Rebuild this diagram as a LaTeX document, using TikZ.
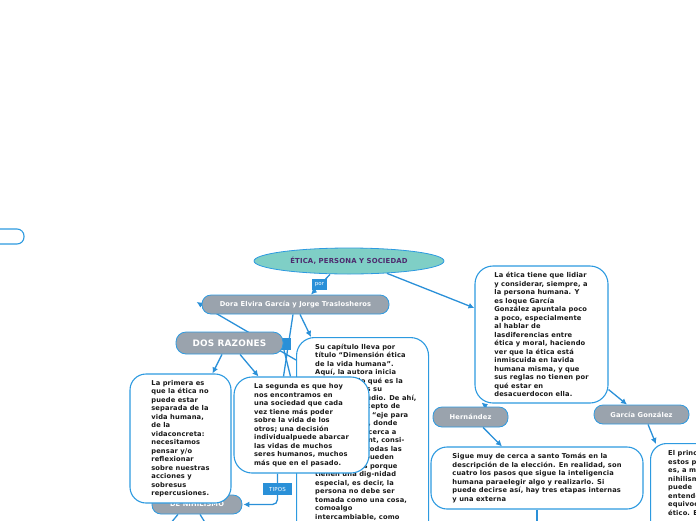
\documentclass[tikz,border=0pt]{standalone}
\usepackage{fontspec}
\setmainfont{DejaVu Sans}[LetterSpace=2]
\usetikzlibrary{shapes.geometric,arrows.meta}
\definecolor{bblue}{HTML}{2D9AE0}
\definecolor{cblue}{HTML}{2A90D8}
\definecolor{gbox}{HTML}{9AA3AD}
\definecolor{teal0}{HTML}{7FCFC6}
\definecolor{purp}{HTML}{4E2A6E}
\definecolor{ink}{HTML}{1A1A1A}
\newcommand\boxfont{\fontsize{6.7}{8.5}\selectfont\bfseries}
\pgfdeclarelayer{bg}
\pgfsetlayers{bg,main}
\begin{document}
\begin{tikzpicture}[x=1pt,y=-1pt,
  txtbox/.style={draw=bblue, line width=1.1pt, fill=white, rounded corners=16pt, align=left, font=\boxfont, text=ink, inner sep=0pt},
  plaintext/.style={align=left, font=\boxfont, text=ink, inner sep=0pt, anchor=north west},
  graybox/.style={draw=bblue, line width=0.8pt, fill=gbox, rounded corners=9pt, font=\boxfont, text=white, inner sep=0pt},
  conn/.style={draw=cblue, line width=1.3pt},
  arr/.style={conn, -{Latex[length=6pt,width=6pt]}},
  lab/.style={fill=cblue, text=white, font=\fontsize{5.5}{6}\selectfont, inner sep=0pt}]
\useasboundingbox (0,0) rectangle (696,520);
\clip (0,0) rectangle (696,520);

% ---------- nodes ----------
\node[ellipse, draw=bblue, line width=0.8pt, fill=teal0, minimum width=190pt, minimum height=26pt,
  inner sep=0pt, font=\fontsize{6.9}{8}\selectfont\bfseries, text=purp] (ell) at (349,261) {ÉTICA, PERSONA Y SOCIEDAD};

\node[graybox, minimum width=187pt, minimum height=19pt] (dora) at (295.5,304.5) {Dora Elvira García y Jorge Traslosheros};

\node[lab, minimum width=14pt, minimum height=12pt] (tab) at (284,344) {};
\node[graybox, minimum width=107pt, minimum height=22pt, rounded corners=10pt,
  font=\fontsize{8.9}{10}\selectfont\bfseries] (dos) at (229.5,343) {DOS RAZONES};

\node[txtbox, anchor=north west, minimum width=132pt, minimum height=300pt, rounded corners=18pt] (mid) at (296,337) {};
\node[plaintext] (midtext) at (315,343.5) {Su capítulo lleva por\\
título “Dimensión ética\\
de la vida humana”.\\
Aquí, la autora inicia\\
preguntando qué es la\\
ética y cuál es su\\
objeto de estudio. De ahí,\\
parte del concepto de\\
persona como “eje para\\
toda la ética”, donde\\
la autora se acerca a\\
la ética de Kant, consi-\\
derando que todas las\\
personas no pueden\\
ser utilizadas porque\\
tienen una dig-nidad\\
especial, es decir, la\\
persona no debe ser\\
tomada como una cosa,\\
comoalgo\\
intercambiable, como};

\node[txtbox, minimum width=135pt, minimum height=96pt, rounded corners=18pt] (seg) at (301.5,425) {La segunda es que hoy\\
nos encontramos en\\
una sociedad que cada\\
vez tiene más poder\\
sobre la vida de los\\
otros; una decisión\\
individualpuede abarcar\\
las vidas de muchos\\
seres humanos, muchos\\
más que en el pasado.};

\node[graybox, minimum width=90pt, minimum height=19pt] (nih) at (197,504.5) {DE NIHILISMO};

\node[txtbox, minimum width=101pt, minimum height=129pt, rounded corners=16pt] (prim) at (180.5,438.5) {La primera es\\
que la ética no\\
puede estar\\
separada de la\\
vida humana,\\
de la\\
vidaconcreta:\\
necesitamos\\
pensar y/o\\
reflexionar\\
sobre nuestras\\
acciones y\\
sobresus\\
repercusiones.};

\node[txtbox, minimum width=34pt, minimum height=15pt, rounded corners=7pt] (lefty) at (7,236.5) {};

\node[txtbox, minimum width=133pt, minimum height=137pt, rounded corners=18pt] (rbox) at (541.5,334.5) {La ética tiene que lidiar\\
y considerar, siempre, a\\
la persona humana. Y\\
es loque García\\
González apuntala poco\\
a poco, especialmente\\
al hablar de\\
lasdiferencias entre\\
ética y moral, haciendo\\
ver que la ética está\\
inmiscuida en lavida\\
humana misma, y que\\
sus reglas no tienen por\\
qué estar en\\
desacuerdocon ella.};

\node[graybox, minimum width=75pt, minimum height=20pt] (hern) at (470.5,417) {Hernández};
\node[graybox, minimum width=95pt, minimum height=19pt] (garc) at (641.5,414.5) {García González};

\node[txtbox, minimum width=212pt, minimum height=62pt, rounded corners=16pt] (sig) at (537,478) {Sigue muy de cerca a santo Tomás en la\\
descripción de la elección. En realidad, son\\
cuatro los pasos que sigue la inteligencia\\
humana paraelegir algo y realizarlo. Si\\
puede decirse así, hay tres etapas internas\\
y una externa};

\node[txtbox, anchor=north west, minimum width=120pt, minimum height=150pt, rounded corners=16pt] (princ) at (650,443) {};
\node[plaintext] (princtext) at (668,450.5) {El princ\\
estos p\\
es, a m\\
nihilism\\
puede\\
entende\\
equivoc\\
ético. E};

\coordinate (endA) at (297,530);
\coordinate (endB) at (170,524);
\coordinate (endC) at (206,524);
\coordinate (endD) at (537,530);

% ---------- connectors ----------
\begin{pgfonlayer}{bg}
\draw[arr] ([xshift=-19pt]ell.south) -- ([xshift=15.5pt]dora.north);
\draw[arr] (ell.-18) -- ([yshift=26.5pt]rbox.west);
\draw[arr] ([xshift=4.5pt]dora.south) -- ([xshift=15pt]mid.north west);
\draw[conn] ([xshift=-2.5pt]dora.south) -- ([xshift=-18pt]seg.north);
\draw[conn] (tab.south) -- ([xshift=-11pt]seg.north);
\draw[arr] ([yshift=-23pt]mid.north west) -- ([xshift=-5pt,yshift=2.5pt]dora.west);
\draw[arr] ([xshift=-7.5pt]dos.south) -- ([xshift=32pt]prim.north);
\draw[arr] ([xshift=10.5pt]dos.south) -- ([xshift=-43pt]seg.north);
\draw[arr, rounded corners=5pt] ([xshift=-24pt]seg.south) |- ([xshift=1pt]nih.east);
\draw[conn] ([xshift=-4.5pt]seg.south) -- (endA);
\draw[conn] ([xshift=-19pt]nih.south) -- (endB);
\draw[conn] ([xshift=3pt]nih.south) -- (endC);
\draw[arr] ([xshift=16pt]hern.north) -- ([xshift=-60pt,yshift=1pt]rbox.south);
\draw[arr] ([yshift=14pt]rbox.south east) -- ([xshift=-14.5pt]garc.north);
\draw[arr] ([xshift=6.5pt]garc.south) -- ([xshift=6pt,yshift=-1pt]princ.north west);
\draw[arr] ([xshift=12.5pt]hern.south) -- ([xshift=-35pt]sig.north);
\draw[conn] (sig.south) -- (endD);
\end{pgfonlayer}

% ---------- labels ----------
\node[lab, minimum width=15pt, minimum height=11pt] (por) at (319.5,284.5) {por};
\node[lab, minimum width=29pt, minimum height=12pt] (tipos) at (277.5,489) {TIPOS};
\end{tikzpicture}
\end{document}
